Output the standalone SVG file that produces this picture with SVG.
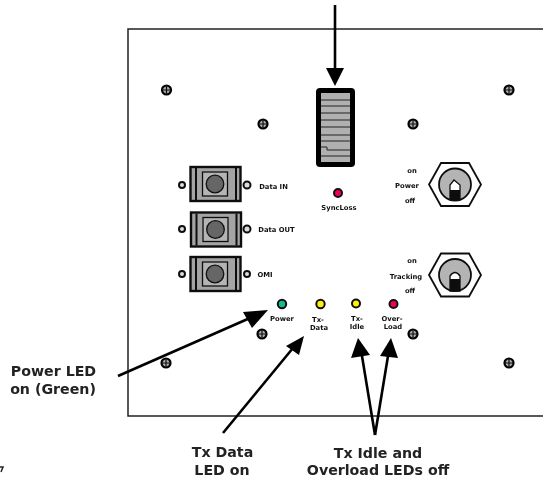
<svg xmlns="http://www.w3.org/2000/svg" width="543" height="481" viewBox="0 0 543 481">
<defs>
<style>
text{font-family:"DejaVu Sans",sans-serif}
.sm{font-size:6.800px;font-weight:700;text-anchor:middle;fill:#111}
.lb{font-size:14.2px;font-weight:700;text-anchor:middle;fill:#222}
.led{stroke:#111;stroke-width:2}
.hole{fill:#ddd;stroke:#111;stroke-width:2}
.ln{stroke:#000;stroke-width:2.600;fill:none}
.ah{fill:#000}
</style>
<filter id="soft" x="0" y="0" width="100%" height="100%"><feGaussianBlur stdDeviation="0.35"/></filter>
<g id="screw"><circle r="4.500" fill="#aaa" stroke="#000" stroke-width="2.200"/><path d="M-4.500 0H4.500M0-4.500V4.500" stroke="#111" stroke-width="1.200" fill="none"/></g>
<g id="conn">
<rect x="-25" y="-17" width="50" height="34" fill="#a4a4a4" stroke="#111" stroke-width="2.400"/>
<path d="M-19.500-16V16M20.500-16V16" stroke="#111" stroke-width="2"/>
<rect x="-13" y="-12" width="25" height="24" fill="#b4b4b4" stroke="#111" stroke-width="1.300"/>
<circle cx="-0.500" r="8.800" fill="#666" stroke="#111" stroke-width="1.300"/>
</g>
<g id="tog">
<path d="M-26 0L-14-21.500H14L26 0L14 21.500H-14Z" fill="#fff" stroke="#111" stroke-width="1.800"/>
<circle r="16" fill="#b4b4b4" stroke="#111" stroke-width="1.800"/>
</g>
</defs>
<rect width="543" height="481" fill="#fff"/>
<g filter="url(#soft)">
<rect id="panel" x="128" y="29" width="430" height="387" fill="#fff" stroke="#222" stroke-width="1.500"/>
<g id="screws">
<use href="#screw" x="166.500" y="90"/><use href="#screw" x="263" y="124"/><use href="#screw" x="413" y="124"/><use href="#screw" x="509" y="90"/>
<use href="#screw" x="262" y="334"/><use href="#screw" x="413" y="334"/><use href="#screw" x="166" y="363"/><use href="#screw" x="509" y="363"/>
</g>
<g id="fader">
<rect x="316" y="88" width="39" height="79" rx="4" fill="#000"/>
<rect x="321" y="93" width="29" height="69" fill="#b0b0b0"/>
<path d="M321 100H350M321 106H350M321 113H350M321 120H350M321 127H350M321 135H350M321 141H350M321 156H350" stroke="#222" stroke-width="1.200"/>
<path d="M321 147H327V150H350" stroke="#222" stroke-width="1" fill="none"/>
</g>
<g id="led-sync"><circle class="led" cx="338" cy="193" r="4" fill="#f0005a"/><text class="sm" x="339" y="210">SyncLoss</text></g>
<g id="conn-in"><use href="#conn" x="215.500" y="184"/><circle class="hole" cx="182" cy="185" r="3"/><circle class="hole" cx="247" cy="185" r="3.500"/><text class="sm" x="273.500" y="189">Data IN</text></g>
<g id="conn-out"><use href="#conn" x="216" y="229.500"/><circle class="hole" cx="182" cy="229" r="3"/><circle class="hole" cx="247" cy="229" r="3.500"/><text class="sm" x="276.500" y="232">Data OUT</text></g>
<g id="conn-omi"><use href="#conn" x="215.500" y="274"/><circle class="hole" cx="182" cy="274" r="3"/><circle class="hole" cx="247" cy="274" r="3"/><text class="sm" x="265" y="277">OMI</text></g>
<g id="toggle-power"><use href="#tog" x="455" y="184.500"/>
<path d="M450 200V185L454 180L460 185V200Z" fill="#fff" stroke="#111" stroke-width="1.300"/><rect x="450" y="190" width="10" height="10" fill="#111"/>
<text class="sm" x="412" y="173">on</text><text class="sm" x="407" y="188">Power</text><text class="sm" x="410" y="203">off</text></g>
<g id="toggle-tracking"><use href="#tog" x="455" y="275"/>
<path d="M450 291V276Q455 269 460 276V291Z" fill="#fff" stroke="#111" stroke-width="1.300"/><rect x="450" y="279" width="10" height="12" fill="#111"/>
<text class="sm" x="412" y="263">on</text><text class="sm" x="406" y="279">Tracking</text><text class="sm" x="410" y="293">off</text></g>
<g id="led-power"><circle class="led" cx="282" cy="304" r="4.200" fill="#14b890"/><text class="sm" x="282" y="321">Power</text></g>
<g id="led-txdata"><circle class="led" cx="320.500" cy="304" r="4.200" fill="#ffef10"/><text class="sm" x="318" y="322">Tx-</text><text class="sm" x="319" y="330">Data</text></g>
<g id="led-txidle"><circle class="led" cx="356" cy="303.500" r="4" fill="#ffef10"/><text class="sm" x="357" y="321">Tx-</text><text class="sm" x="357" y="329">Idle</text></g>
<g id="led-over"><circle class="led" cx="393.500" cy="304" r="4" fill="#f0005a"/><text class="sm" x="392" y="321">Over-</text><text class="sm" x="393" y="329">Load</text></g>
<g id="connectors">
<path class="ln" d="M335 5V75"/><path class="ah" d="M326 68H344L335 86Z"/>
<path class="ln" d="M118 376L250 318"/><path class="ah" d="M268 310L243 312L252 328Z"/>
<path class="ln" d="M223 433L293 348"/><path class="ah" d="M304 336L286 346L299 355Z"/>
<path class="ln" d="M375 435L361 350"/><path class="ah" d="M358 338L351 358L370 355Z"/>
<path class="ln" d="M375 435L389 350"/><path class="ah" d="M391 338L380 356L398 358Z"/>
</g>
<g id="labels">
<text class="lb" x="53.500" y="376">Power LED</text><text class="lb" x="53" y="394">on (Green)</text>
<text class="lb" x="222.500" y="457">Tx Data</text><text class="lb" x="222" y="475">LED on</text>
<text class="lb" x="378" y="458">Tx Idle and</text><text class="lb" x="378" y="475">Overload LEDs off</text>
</g>
<path id="stray" d="M0 467L3 467L1 472" stroke="#222" stroke-width="1.500" fill="none"/>
</g>
</svg>
